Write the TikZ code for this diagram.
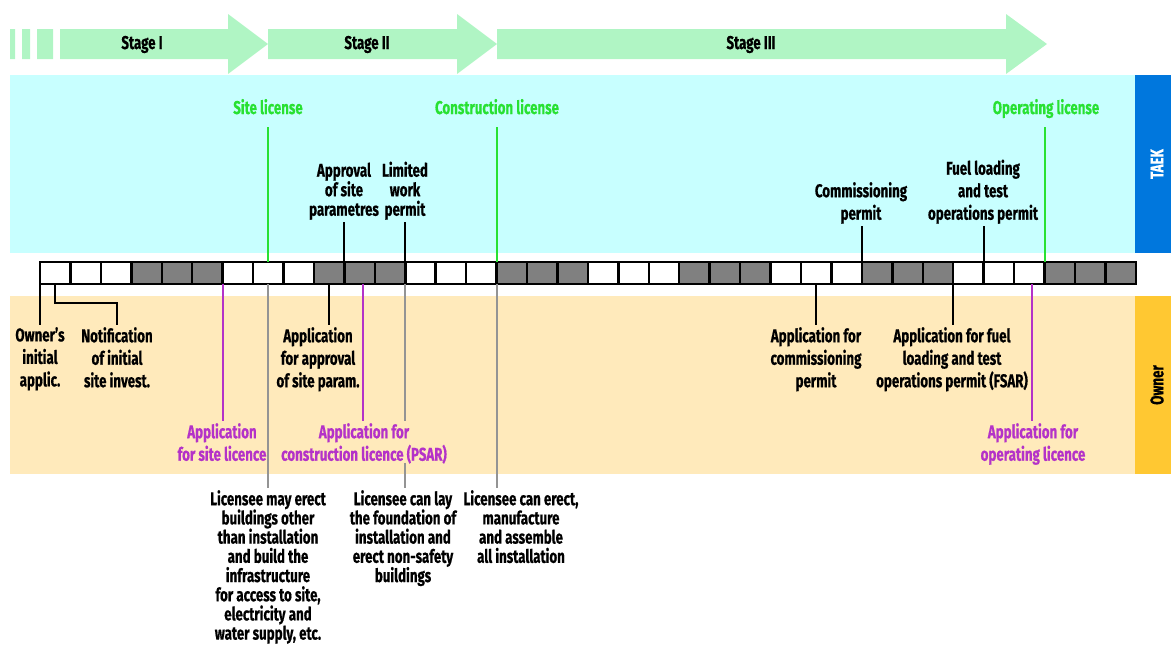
\documentclass[tikz,border=0pt]{standalone}
\usepackage{fontspec}
\setmainfont{Fira Sans}[FakeStretch=0.72, BoldFeatures={FakeBold=0.6}]
\definecolor{taekcyan}{RGB}{200,255,255}
\definecolor{ownbeige}{RGB}{255,234,187}
\definecolor{taekblue}{RGB}{0,119,221}
\definecolor{ownorange}{RGB}{255,200,50}
\definecolor{stagegreen}{RGB}{176,245,196}
\definecolor{licgreen}{RGB}{40,225,50}
\definecolor{licpurple}{RGB}{180,50,200}
\definecolor{cellgray}{RGB}{128,128,128}
\begin{document}
\begin{tikzpicture}[x=1pt, y=-1pt, font=\bfseries\fontsize{18.5}{22.5}\selectfont,
    lab/.style={align=center, inner sep=2pt},
    labt/.style={lab, font=\bfseries\fontsize{18.5}{19.5}\selectfont},
    labs/.style={lab, font=\bfseries\fontsize{18.5}{19.2}\selectfont},
    prp/.style={lab, text=licpurple},
    grn/.style={text=licgreen, anchor=base, text depth=0pt, inner sep=0pt, outer ysep=13pt},
    cell/.style={draw=black, line width=2.5pt, minimum width=30.44pt, minimum height=22pt, inner sep=0pt, outer sep=0pt},
    ln/.style={line width=2pt},
    gl/.style={ln, draw=licgreen}, pl/.style={ln, draw=licpurple}, gyl/.style={ln, draw=black!42}]
  \useasboundingbox (0,0) rectangle (1171,645);
  \fill[taekcyan] (10,75) rectangle (1135,253);
  \fill[ownbeige] (10,296) rectangle (1135,474);
  \fill[taekblue] (1135,75) rectangle (1171,253);
  \fill[ownorange] (1135,296) rectangle (1171,474);
  \node[rotate=90, text=white] (taek) at (1157,164) {TAEK};
  \node[rotate=90] (owner) at (1157,385) {Owner};
  \fill[stagegreen] (10,29) rectangle (15,59) (22,29) rectangle (30,59) (37,29) rectangle (53,59);
  \fill[stagegreen] (60,29) -- (228,29) -- (228,14) -- (268,44) -- (228,74) -- (228,59) -- (60,59) -- cycle;
  \fill[stagegreen] (268,29) -- (457,29) -- (457,14) -- (497,44) -- (457,74) -- (457,59) -- (268,59) -- cycle;
  \fill[stagegreen] (497,29) -- (1006,29) -- (1006,14) -- (1047,44) -- (1006,74) -- (1006,59) -- (497,59) -- cycle;
  \node[anchor=base] (st1) at (142,49) {Stage I};
  \node[anchor=base] (st2) at (367,49) {Stage II};
  \node[anchor=base] (st3) at (751,49) {Stage III};
  \foreach \i in {0,...,35}{
    \pgfmathtruncatemacro\grp{mod(floor(\i/3),2)}
    \ifnum\grp=1 \def\cf{cellgray}\else\def\cf{white}\fi
    \node[cell, fill=\cf] (c\i) at ({40+30.44*(\i+0.5)},273) {};
  }
  \node[grn] (sitel) at (268,114) {Site license};
  \node[grn] (consl) at (497,114) {Construction license};
  \node[grn] (opl) at (1046,114) {Operating license};
  \draw[gl] (c7.north) -- (c7.north |- sitel.south);
  \draw[gl] (c15.north west) -- (c15.north west |- consl.south);
  \draw[gl] (c33.north west) -- (c33.north west |- opl.south);
  \node[labt, anchor=south] (apsite) at (344,222) {Approval\\of site\\parametres};
  \node[labt, anchor=south] (lwp) at (405,222) {Limited\\work\\permit};
  \node[lab, anchor=south] (comp) at (861,226) {Commissioning\\permit};
  \node[lab, anchor=south] (fuelp) at (983,226) {Fuel loading\\and test\\operations permit};
  \draw[ln] (c10.north west) -- (c10.north west |- apsite.south);
  \draw[ln] (c12.north west) -- (c12.north west |- lwp.south);
  \draw[ln] (c27.north west) -- (c27.north west |- comp.south);
  \draw[ln] (c31.north west) -- (c31.north west |- fuelp.south);
  \node[lab, anchor=north] (owna) at (40,325) {Owner's\\initial\\applic.};
  \node[lab, anchor=north] (ntfa) at (117,325) {Notification\\of initial\\site invest.};
  \node[lab, anchor=north] (apspa) at (318,325) {Application\\for approval\\of site param.};
  \node[lab, anchor=north] (comma) at (816,325) {Application for\\commissioning\\permit};
  \node[lab, anchor=north] (fuela) at (952,325) {Application for fuel\\loading and test\\operations permit (FSAR)};
  \coordinate (ntfbend) at (117,303);
  \draw[ln] (c0.south west) -- (c0.south west |- owna.north);
  \draw[ln] (c0.south) |- (ntfbend) -- (ntfa.north);
  \draw[ln] (c9.south) -- (c9.south |- apspa.north);
  \draw[ln] (c25.south) -- (c25.south |- comma.north);
  \draw[ln] (c30.south west) -- (c30.south west |- fuela.north);
  \node[prp, anchor=north] (sitea) at (222,421) {Application\\for site licence};
  \node[prp, anchor=north] (psara) at (364,421) {Application for\\construction licence (PSAR)};
  \node[prp, anchor=north] (opa) at (1033,421) {Application for\\operating licence};
  \draw[pl] (c6.south west) -- (c6.south west |- sitea.north);
  \draw[pl] ([xshift=3pt]c10.south) -- ([xshift=3pt]c10.south |- psara.north);
  \draw[pl] ([xshift=3pt]c32.south) -- ([xshift=3pt]c32.south |- opa.north);
  \node[labs, anchor=north] (sitec) at (268,488) {Licensee may erect\\buildings other\\than installation\\and build the\\infrastructure\\for access to site,\\electricity and\\water supply, etc.};
  \node[labs, anchor=north] (lwpc) at (403,488) {Licensee can lay\\the foundation of\\installation and\\erect non-safety\\buildings};
  \node[labs, anchor=north] (conc) at (521,488) {Licensee can erect,\\manufacture\\and assemble\\all installation};
  \draw[gyl] (c7.south) -- (c7.south |- sitec.north);
  \draw[gyl] (c12.south west) -- (c12.south west |- psara.north);
  \draw[gyl] ([yshift=3pt]c12.south west |- psara.south) -- (c12.south west |- lwpc.north);
  \draw[gyl] (c15.south west) -- (c15.south west |- conc.north);
\end{tikzpicture}
\end{document}
